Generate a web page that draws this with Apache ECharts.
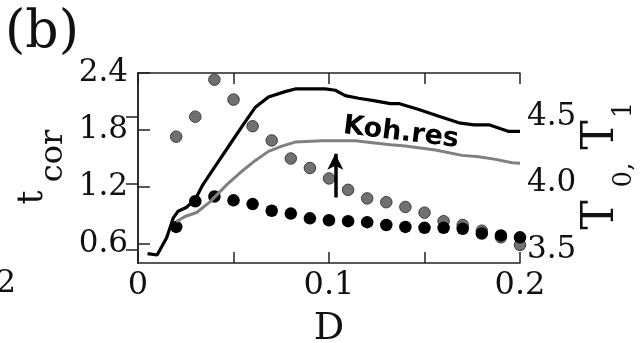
<!DOCTYPE html>
<html>
<head>
<meta charset="utf-8">
<script src="https://cdn.jsdelivr.net/npm/echarts@6/dist/echarts.min.js"></script>
<style>
  html, body { margin: 0; padding: 0; background: #fff; }
  #chart { width: 640px; height: 343px; }
</style>
</head>
<body>
<div id="chart"></div>
<script>
  // t_cor dots (left axis)
  const dotD = [0.02, 0.03, 0.04, 0.05, 0.06, 0.07, 0.08, 0.09, 0.10, 0.11,
                0.12, 0.13, 0.14, 0.15, 0.16, 0.17, 0.18, 0.19, 0.20]
  const tcorGray = [1.73, 1.94, 2.33, 2.12, 1.84, 1.69, 1.50, 1.40, 1.29, 1.17,
                    1.08, 1.04, 0.99, 0.93, 0.84, 0.80, 0.74, 0.67, 0.59]
  const tcorBlack = [0.78, 1.05, 1.10, 1.06, 1.02, 0.95, 0.92, 0.87, 0.85, 0.84,
                     0.83, 0.80, 0.78, 0.77, 0.77, 0.76, 0.71, 0.69, 0.67]

  // T1 curve (black, right axis)
  const t1D = [0.005, 0.010, 0.015, 0.0185, 0.021, 0.0255, 0.030, 0.034, 0.041, 0.048,
               0.055, 0.0613, 0.0648, 0.0683, 0.077, 0.0823, 0.098, 0.1033, 0.1085, 0.1155,
               0.1242, 0.1321, 0.1365, 0.147, 0.1575, 0.168, 0.1758, 0.1837, 0.1899, 0.1942, 0.200]
  const t1 = [3.47, 3.46, 3.59, 3.74, 3.79, 3.82, 3.88, 3.99, 4.14, 4.29,
              4.44, 4.57, 4.61, 4.65, 4.69, 4.71, 4.71, 4.70, 4.66, 4.64,
              4.62, 4.60, 4.60, 4.555, 4.505, 4.455, 4.44, 4.44, 4.41, 4.39, 4.39]

  // T0 curve (gray, right axis)
  const t0D = [0.020, 0.0246, 0.0307, 0.0377, 0.0465, 0.0552, 0.0613, 0.0683, 0.0753, 0.0823,
               0.0963, 0.1137, 0.1321, 0.140, 0.1557, 0.1697, 0.1784, 0.1872, 0.1959, 0.200]
  const t0 = [3.71, 3.75, 3.78, 3.86, 3.99, 4.10, 4.17, 4.24, 4.28, 4.31,
              4.32, 4.32, 4.29, 4.28, 4.25, 4.21, 4.20, 4.18, 4.155, 4.15]

  const leftTicks = [0.6, 1.2, 1.8, 2.4]
  const rightTicks = [3.5, 4.0, 4.5]

  const zip = (xs, ys) => xs.map((x, i) => [x, ys[i]])

  const serif = 'DejaVu Serif'
  const ink = '#111'
  const frame = { show: true, lineStyle: { color: '#222', width: 1.5 } }
  const tick = (len, vals) => {
    const t = { show: true, inside: true, length: len, lineStyle: { color: '#222', width: 1.5 } }
    if (vals) t.customValues = vals
    return t
  }
  const labelFont = { fontFamily: serif, fontSize: 31, color: ink }
  const txt = (x, y, text, size, rot, extra) => ({
    type: 'text', x, y, rotation: rot || 0,
    style: Object.assign({
      text, fontFamily: serif, fontSize: size, fill: ink,
      align: 'center', verticalAlign: 'middle', textAlign: 'center', textVerticalAlign: 'middle'
    }, extra || {})
  })

  const chart = echarts.init(document.getElementById('chart'))
  chart.setOption({
    animation: false,
    grid: { left: 138, right: 120, top: 73, bottom: 80, outerBoundsMode: 'none' },
    xAxis: [
      {
        type: 'value', min: 0, max: 0.2, interval: 0.05, position: 'bottom',
        axisLine: frame, axisTick: tick(11), splitLine: { show: false },
        axisLabel: {
          ...labelFont, fontSize: 32, margin: 7, hideOverlap: false,
          showMinLabel: true, showMaxLabel: true,
          formatter: v => (Math.round(v * 100) % 10 === 0 ? String(+v.toFixed(1)) : '')
        },
        name: 'D', nameLocation: 'middle', nameGap: 47,
        nameTextStyle: { fontFamily: serif, fontSize: 38, color: ink }
      },
      {
        type: 'value', min: 0, max: 0.2, interval: 0.05, position: 'top',
        axisLine: frame, axisTick: tick(11), splitLine: { show: false },
        axisLabel: { show: false }
      }
    ],
    yAxis: [
      {
        type: 'value', min: 0.4, max: 2.4, position: 'left',
        axisLine: frame, axisTick: tick(12, leftTicks), splitLine: { show: false },
        axisLabel: {
          ...labelFont, margin: 10, padding: [12, 0, 0, 0], hideOverlap: false,
          customValues: leftTicks, formatter: v => v.toFixed(1)
        }
      },
      {
        type: 'value', min: 3.4, max: 4.83, position: 'right',
        axisLine: frame, axisTick: tick(12, rightTicks), splitLine: { show: false },
        axisLabel: {
          ...labelFont, margin: 7, padding: [6, 0, 0, 0], hideOverlap: false,
          customValues: rightTicks, formatter: v => v.toFixed(1)
        }
      }
    ],
    series: [
      {
        name: 'T0', type: 'line', yAxisIndex: 1, data: zip(t0D, t0),
        showSymbol: false, lineStyle: { color: '#808080', width: 3 }, silent: true
      },
      {
        name: 'T1', type: 'line', yAxisIndex: 1, data: zip(t1D, t1),
        showSymbol: false, lineStyle: { color: '#000', width: 3.2 }, silent: true
      },
      {
        name: 'tcor gray', type: 'scatter', data: zip(dotD, tcorGray),
        symbolSize: 11.5,
        itemStyle: { color: '#707070', borderColor: '#3c3c3c', borderWidth: 1, opacity: 1 },
        silent: true
      },
      {
        name: 'tcor black', type: 'scatter', data: zip(dotD, tcorBlack),
        symbolSize: 12.5, itemStyle: { color: '#000', opacity: 1 }, silent: true,
        markLine: {
          silent: true, symbol: ['none', 'arrow'], symbolSize: [12, 16],
          label: { show: false },
          lineStyle: { color: '#000', width: 3.5, type: 'solid' },
          data: [[{ coord: [0.1033, 1.09] }, { coord: [0.1033, 1.55] }]]
        }
      }
    ],
    graphic: [
      txt(42, 33, '(b)', 52),
      txt(16, 284, '2', 32, 0, { align: 'right', textAlign: 'right' }),
      txt(32.5, 197.5, 't', 35, Math.PI / 2),
      txt(54, 156, 'cor', 32, Math.PI / 2),
      txt(602, 215, 'T', 44, Math.PI / 2),
      txt(624, 175, '0,', 26, Math.PI / 2),
      txt(602, 135, 'T', 44, Math.PI / 2),
      txt(624, 110, '1', 26, Math.PI / 2),
      txt(401, 133, 'Koh.res', 27, -0.12, { fontFamily: 'DejaVu Sans', fontWeight: 'bold', fill: '#000' })
    ]
  })
</script>
</body>
</html>
